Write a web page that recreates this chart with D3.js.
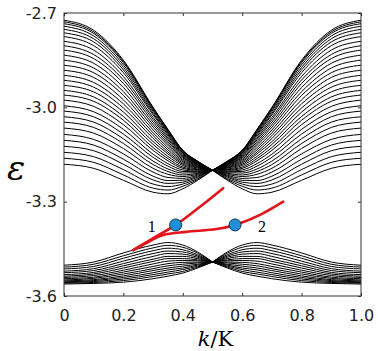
<!DOCTYPE html>
<html lang="en">
<head>
<meta charset="UTF-8">
<title>Band structure</title>
<script src="https://d3js.org/d3.v7.min.js"></script>
<style>
    body { margin: 0; background: #fff; }
</style>
</head>
<body>
<svg></svg>
<script>
// the black bands are mirror-symmetric about k = 0.5
const kSamples = [0, 0.1, 0.2, 0.3, 0.35, 0.4, 0.45, 0.5];

// upper band: one row per line, energies at kSamples
const upperBand = [
    [-2.723, -2.755, -2.850, -3.000, -3.070, -3.137, -3.171, -3.2],
    [-2.728, -2.760, -2.854, -3.002, -3.071, -3.137, -3.172, -3.2],
    [-2.734, -2.765, -2.858, -3.004, -3.073, -3.138, -3.172, -3.2],
    [-2.742, -2.773, -2.865, -3.008, -3.076, -3.140, -3.173, -3.2],
    [-2.752, -2.782, -2.873, -3.013, -3.079, -3.141, -3.174, -3.2],
    [-2.763, -2.792, -2.881, -3.019, -3.083, -3.144, -3.175, -3.2],
    [-2.775, -2.804, -2.890, -3.024, -3.087, -3.146, -3.176, -3.2],
    [-2.790, -2.818, -2.902, -3.032, -3.092, -3.149, -3.177, -3.2],
    [-2.804, -2.832, -2.913, -3.039, -3.098, -3.152, -3.178, -3.2],
    [-2.818, -2.845, -2.924, -3.047, -3.103, -3.155, -3.180, -3.2],
    [-2.834, -2.860, -2.937, -3.055, -3.109, -3.158, -3.182, -3.2],
    [-2.850, -2.875, -2.950, -3.063, -3.115, -3.161, -3.183, -3.2],
    [-2.866, -2.890, -2.962, -3.072, -3.121, -3.165, -3.185, -3.2],
    [-2.882, -2.905, -2.976, -3.081, -3.128, -3.169, -3.187, -3.2],
    [-2.898, -2.921, -2.989, -3.090, -3.135, -3.173, -3.189, -3.2],
    [-2.914, -2.936, -3.002, -3.099, -3.142, -3.177, -3.191, -3.2],
    [-2.930, -2.951, -3.015, -3.109, -3.148, -3.181, -3.193, -3.2],
    [-2.946, -2.967, -3.029, -3.118, -3.156, -3.185, -3.196, -3.2],
    [-2.961, -2.981, -3.041, -3.128, -3.163, -3.190, -3.198, -3.2],
    [-2.977, -2.997, -3.055, -3.137, -3.170, -3.194, -3.200, -3.2],
    [-2.995, -3.014, -3.070, -3.149, -3.179, -3.199, -3.203, -3.2],
    [-3.012, -3.030, -3.085, -3.159, -3.187, -3.204, -3.205, -3.2],
    [-3.030, -3.047, -3.100, -3.171, -3.196, -3.209, -3.208, -3.2],
    [-3.047, -3.064, -3.115, -3.182, -3.204, -3.215, -3.210, -3.2],
    [-3.066, -3.082, -3.131, -3.194, -3.213, -3.220, -3.213, -3.2],
    [-3.086, -3.102, -3.148, -3.206, -3.223, -3.226, -3.216, -3.2],
    [-3.105, -3.120, -3.165, -3.219, -3.233, -3.232, -3.219, -3.2],
    [-3.124, -3.138, -3.181, -3.231, -3.242, -3.238, -3.222, -3.2],
    [-3.143, -3.157, -3.198, -3.244, -3.252, -3.244, -3.226, -3.2],
    [-3.162, -3.175, -3.215, -3.257, -3.263, -3.251, -3.229, -3.2],
    [-3.181, -3.194, -3.232, -3.270, -3.275, -3.259, -3.232, -3.2]
];

// lower band, same layout
const lowerBand = [
    [-3.502, -3.492, -3.463, -3.438, -3.430, -3.438, -3.460, -3.492],
    [-3.508, -3.499, -3.472, -3.447, -3.439, -3.445, -3.464, -3.492],
    [-3.514, -3.506, -3.480, -3.456, -3.448, -3.453, -3.469, -3.492],
    [-3.521, -3.513, -3.489, -3.465, -3.457, -3.460, -3.473, -3.492],
    [-3.526, -3.519, -3.497, -3.474, -3.465, -3.467, -3.477, -3.492],
    [-3.532, -3.525, -3.504, -3.483, -3.474, -3.474, -3.481, -3.492],
    [-3.537, -3.530, -3.511, -3.490, -3.481, -3.481, -3.485, -3.492],
    [-3.541, -3.535, -3.518, -3.498, -3.489, -3.487, -3.488, -3.492],
    [-3.545, -3.540, -3.524, -3.506, -3.497, -3.493, -3.492, -3.492],
    [-3.549, -3.544, -3.530, -3.513, -3.504, -3.499, -3.495, -3.492],
    [-3.552, -3.548, -3.536, -3.519, -3.511, -3.505, -3.499, -3.492],
    [-3.555, -3.551, -3.541, -3.526, -3.517, -3.511, -3.502, -3.492],
    [-3.557, -3.554, -3.546, -3.532, -3.524, -3.516, -3.505, -3.492],
    [-3.559, -3.557, -3.551, -3.538, -3.530, -3.522, -3.508, -3.492],
    [-3.562, -3.560, -3.556, -3.545, -3.537, -3.527, -3.511, -3.492]
];

// red branches
const branch1K = [0.233, 0.301, 0.376, 0.458, 0.536];
const branch1E = [-3.454, -3.416, -3.374, -3.316, -3.257];
const branch2K = [0.233, 0.290, 0.334, 0.413, 0.514, 0.576, 0.660, 0.738];
const branch2E = [-3.454, -3.425, -3.406, -3.396, -3.387, -3.374, -3.342, -3.300];

// marked states
const dotLabels = ["1", "2"];
const dotK = [0.376, 0.576];
const dotE = [-3.374, -3.374];

const xTicks = [0, 0.2, 0.4, 0.6, 0.8, 1.0];
const yTicks = [-3.6, -3.3, -3.0, -2.7];

let width = 378;
let height = 351;
let margin = {top: 13, right: 17, bottom: 55, left: 64};

let svg = d3.select("svg")
    .attr("width", width)
    .attr("height", height);

let x = d3.scaleLinear().domain([0, 1]).range([margin.left, width - margin.right]);
let y = d3.scaleLinear().domain([-3.6, -2.7]).range([height - margin.bottom, margin.top]);

let line = d3.line()
    .x(d => x(d[0]))
    .y(d => y(d[1]))
    .curve(d3.curveMonotoneX);

// each row gives a left half and its mirror image on the right
function halves(row) {
    let left = kSamples.map((k, i) => [k, row[i]]);
    let right = kSamples.map((k, i) => [1 - k, row[i]]).reverse();
    return [left, right];
}

let bands = svg.append("g")
    .attr("fill", "none")
    .attr("stroke", "#000")
    .attr("stroke-width", 1);

upperBand.concat(lowerBand).forEach(row => {
    bands.selectAll(null)
        .data(halves(row))
        .enter()
        .append("path")
        .attr("d", line);
});

// red branches
let redLine = d3.line()
    .x(d => x(d[0]))
    .y(d => y(d[1]))
    .curve(d3.curveCatmullRom);

[[branch1K, branch1E], [branch2K, branch2E]].forEach(b => {
    svg.append("path")
        .datum(b[0].map((k, i) => [k, b[1][i]]))
        .attr("d", redLine)
        .attr("fill", "none")
        .attr("stroke", "#e3141b")
        .attr("stroke-width", 2.6)
        .attr("stroke-linecap", "round");
});

// dots and labels
svg.selectAll("circle")
    .data(dotK)
    .enter()
    .append("circle")
    .attr("cx", d => x(d))
    .attr("cy", (d, i) => y(dotE[i]))
    .attr("r", 6)
    .attr("fill", "#1e8fd8")
    .attr("stroke", "#1a3550")
    .attr("stroke-width", 1);

svg.selectAll("text.dotlab")
    .data(dotLabels)
    .enter()
    .append("text")
    .attr("class", "dotlab")
    .attr("x", (d, i) => x(dotK[i]) + (i === 0 ? -24 : 27))
    .attr("y", (d, i) => y(dotE[i]) + 7)
    .attr("text-anchor", "middle")
    .style("font-family", "'Liberation Serif', serif")
    .style("font-size", "16px")
    .text(d => d);

// frame and axes
svg.append("rect")
    .attr("x", margin.left)
    .attr("y", margin.top)
    .attr("width", width - margin.left - margin.right)
    .attr("height", height - margin.top - margin.bottom)
    .attr("fill", "none")
    .attr("stroke", "#333")
    .attr("stroke-width", 1);

let fmt = d => d === 0 ? "0" : d.toFixed(1);

let xAxis = svg.append("g")
    .attr("transform", "translate(0," + (height - margin.bottom) + ")")
    .call(d3.axisBottom(x).tickValues(xTicks).tickFormat(fmt).tickSizeInner(-3).tickSizeOuter(0).tickPadding(14));

let xTop = svg.append("g")
    .attr("transform", "translate(0," + margin.top + ")")
    .call(d3.axisTop(x).tickValues(xTicks).tickFormat("").tickSizeInner(-3).tickSizeOuter(0));

let yAxis = svg.append("g")
    .attr("transform", "translate(" + margin.left + ",0)")
    .call(d3.axisLeft(y).tickValues(yTicks).tickFormat(d => d.toFixed(1)).tickSizeInner(-3).tickSizeOuter(0).tickPadding(7));

let yRight = svg.append("g")
    .attr("transform", "translate(" + (width - margin.right) + ",0)")
    .call(d3.axisRight(y).tickValues(yTicks).tickFormat("").tickSizeInner(-3).tickSizeOuter(0));

[xAxis, xTop, yAxis, yRight].forEach(g => {
    g.select(".domain").remove();
    g.selectAll("line").attr("stroke", "#333");
    g.selectAll("text")
        .attr("fill", "#222")
        .style("font-family", "'DejaVu Sans', sans-serif")
        .style("font-size", "16px");
});

// axis titles
let xTitle = svg.append("text")
    .attr("x", (margin.left + width - margin.right) / 2 + 3)
    .attr("y", 346)
    .attr("text-anchor", "middle")
    .style("font-family", "'DejaVu Serif', serif")
    .style("font-size", "21px");
xTitle.append("tspan").style("font-style", "italic").text("k");
xTitle.append("tspan").text("/K");

svg.append("text")
    .attr("x", 16)
    .attr("y", 180)
    .attr("text-anchor", "middle")
    .style("font-family", "'DejaVu Serif', serif")
    .style("font-style", "italic")
    .style("font-size", "34px")
    .text("ε");
</script>
</body>
</html>
